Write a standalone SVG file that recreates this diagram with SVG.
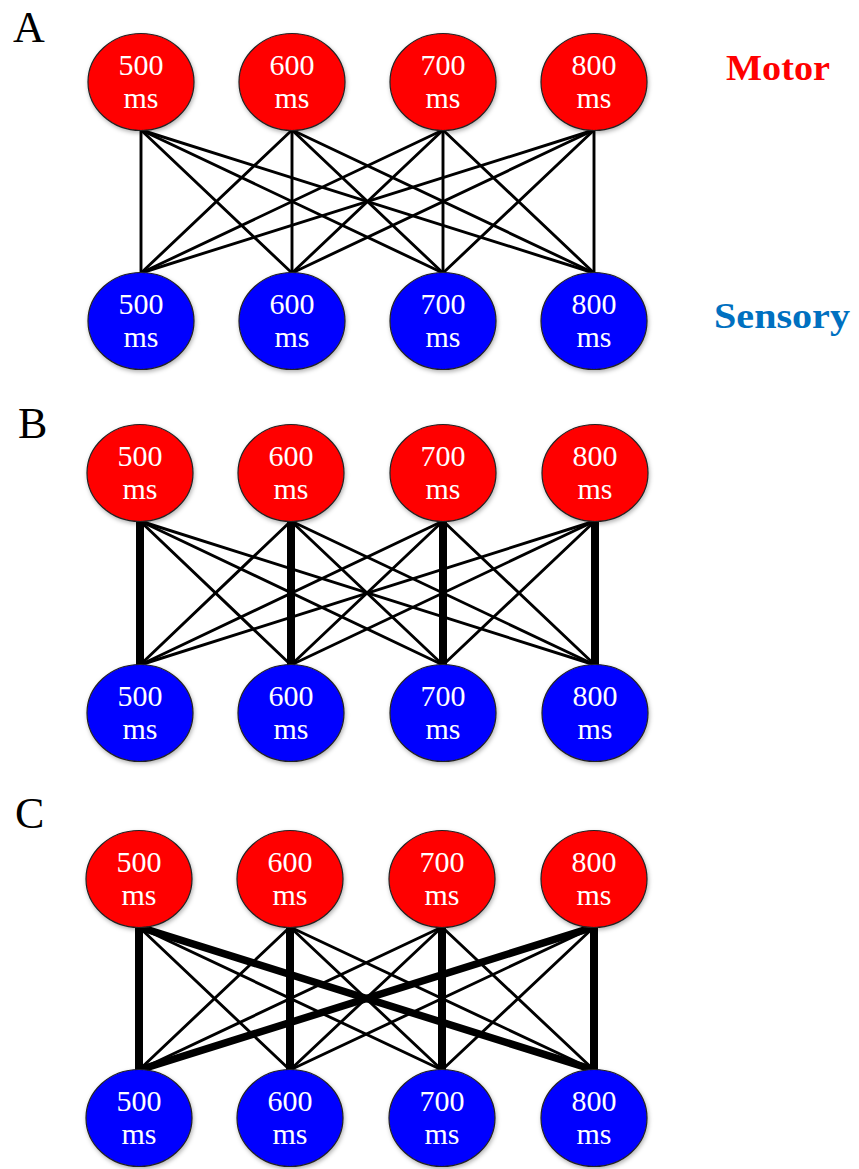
<svg xmlns="http://www.w3.org/2000/svg" width="859" height="1169" viewBox="0 0 859 1169">
<style>
.motor{fill:#FF0000;stroke:#222;stroke-width:1.2;filter:url(#sh)}
.sensory{fill:#0000FF;stroke:#222;stroke-width:1.2;filter:url(#sh)}
.nt{font-family:"Liberation Serif",serif;font-size:30px;fill:#fff;text-anchor:middle}
.panel{font-family:"Liberation Serif",serif;font-size:44px;fill:#000}
.thin{stroke:#000;stroke-width:2.9;stroke-linecap:round}
.thick{stroke:#000;stroke-width:8;stroke-linecap:butt}
.thickd{stroke:#000;stroke-width:7.5;stroke-linecap:round}
</style>
<defs>
<filter id="sh" x="-20%" y="-20%" width="140%" height="140%">
<feDropShadow dx="1" dy="2" stdDeviation="2" flood-color="#000" flood-opacity="0.3"/>
</filter>
</defs>
<rect width="859" height="1169" fill="#fff"/>

<text class="panel" x="13" y="42">A</text>
<text class="panel" x="18" y="438">B</text>
<text class="panel" x="15" y="828">C</text>
<text x="726" y="80" font-family="'Liberation Serif',serif" font-weight="bold" font-size="36" fill="#FF0000" textLength="104" lengthAdjust="spacingAndGlyphs">Motor</text>
<text x="714" y="328" font-family="'Liberation Serif',serif" font-weight="bold" font-size="36" fill="#0070C0" textLength="136" lengthAdjust="spacingAndGlyphs">Sensory</text>

<g id="connectors">
<g id="conn-A">
<line class="thin" x1="141" y1="130" x2="141" y2="273"/>
<line class="thin" x1="141" y1="130" x2="292" y2="273"/>
<line class="thin" x1="141" y1="130" x2="443" y2="273"/>
<line class="thin" x1="141" y1="130" x2="594" y2="273"/>
<line class="thin" x1="292" y1="130" x2="141" y2="273"/>
<line class="thin" x1="292" y1="130" x2="292" y2="273"/>
<line class="thin" x1="292" y1="130" x2="443" y2="273"/>
<line class="thin" x1="292" y1="130" x2="594" y2="273"/>
<line class="thin" x1="443" y1="130" x2="141" y2="273"/>
<line class="thin" x1="443" y1="130" x2="292" y2="273"/>
<line class="thin" x1="443" y1="130" x2="443" y2="273"/>
<line class="thin" x1="443" y1="130" x2="594" y2="273"/>
<line class="thin" x1="594" y1="130" x2="141" y2="273"/>
<line class="thin" x1="594" y1="130" x2="292" y2="273"/>
<line class="thin" x1="594" y1="130" x2="443" y2="273"/>
<line class="thin" x1="594" y1="130" x2="594" y2="273"/>
</g>
<g id="conn-B">
<line class="thick" x1="140" y1="521" x2="140" y2="666"/>
<line class="thin" x1="140" y1="521" x2="291" y2="665"/>
<line class="thin" x1="140" y1="521" x2="443" y2="665"/>
<line class="thin" x1="140" y1="521" x2="595" y2="665"/>
<line class="thin" x1="291" y1="521" x2="140" y2="665"/>
<line class="thick" x1="291" y1="521" x2="291" y2="666"/>
<line class="thin" x1="291" y1="521" x2="443" y2="665"/>
<line class="thin" x1="291" y1="521" x2="595" y2="665"/>
<line class="thin" x1="443" y1="521" x2="140" y2="665"/>
<line class="thin" x1="443" y1="521" x2="291" y2="665"/>
<line class="thick" x1="443" y1="521" x2="443" y2="666"/>
<line class="thin" x1="443" y1="521" x2="595" y2="665"/>
<line class="thin" x1="595" y1="521" x2="140" y2="665"/>
<line class="thin" x1="595" y1="521" x2="291" y2="665"/>
<line class="thin" x1="595" y1="521" x2="443" y2="665"/>
<line class="thick" x1="595" y1="521" x2="595" y2="666"/>
</g>
<g id="conn-C">
<line class="thick" x1="139" y1="926" x2="139" y2="1071"/>
<line class="thin" x1="139" y1="927" x2="290" y2="1070"/>
<line class="thin" x1="139" y1="927" x2="442" y2="1070"/>
<line class="thickd" x1="139" y1="927" x2="594" y2="1070"/>
<line class="thin" x1="290" y1="927" x2="139" y2="1070"/>
<line class="thick" x1="290" y1="926" x2="290" y2="1071"/>
<line class="thin" x1="290" y1="927" x2="442" y2="1070"/>
<line class="thin" x1="290" y1="927" x2="594" y2="1070"/>
<line class="thin" x1="442" y1="927" x2="139" y2="1070"/>
<line class="thin" x1="442" y1="927" x2="290" y2="1070"/>
<line class="thick" x1="442" y1="926" x2="442" y2="1071"/>
<line class="thin" x1="442" y1="927" x2="594" y2="1070"/>
<line class="thickd" x1="594" y1="927" x2="139" y2="1070"/>
<line class="thin" x1="594" y1="927" x2="290" y2="1070"/>
<line class="thin" x1="594" y1="927" x2="442" y2="1070"/>
<line class="thick" x1="594" y1="926" x2="594" y2="1071"/>
</g>
</g>

<g id="A-m500"><ellipse class="motor" cx="141" cy="82" rx="53" ry="48.5"/><text class="nt" x="141" y="75">500</text><text class="nt" x="141" y="108">ms</text></g>
<g id="A-m600"><ellipse class="motor" cx="292" cy="82" rx="53" ry="48.5"/><text class="nt" x="292" y="75">600</text><text class="nt" x="292" y="108">ms</text></g>
<g id="A-m700"><ellipse class="motor" cx="443" cy="82" rx="53" ry="48.5"/><text class="nt" x="443" y="75">700</text><text class="nt" x="443" y="108">ms</text></g>
<g id="A-m800"><ellipse class="motor" cx="594" cy="82" rx="53" ry="48.5"/><text class="nt" x="594" y="75">800</text><text class="nt" x="594" y="108">ms</text></g>
<g id="A-s500"><ellipse class="sensory" cx="141" cy="321" rx="53" ry="48.5"/><text class="nt" x="141" y="314">500</text><text class="nt" x="141" y="347">ms</text></g>
<g id="A-s600"><ellipse class="sensory" cx="292" cy="321" rx="53" ry="48.5"/><text class="nt" x="292" y="314">600</text><text class="nt" x="292" y="347">ms</text></g>
<g id="A-s700"><ellipse class="sensory" cx="443" cy="321" rx="53" ry="48.5"/><text class="nt" x="443" y="314">700</text><text class="nt" x="443" y="347">ms</text></g>
<g id="A-s800"><ellipse class="sensory" cx="594" cy="321" rx="53" ry="48.5"/><text class="nt" x="594" y="314">800</text><text class="nt" x="594" y="347">ms</text></g>

<g id="B-m500"><ellipse class="motor" cx="140" cy="473" rx="53" ry="48.5"/><text class="nt" x="140" y="466">500</text><text class="nt" x="140" y="499">ms</text></g>
<g id="B-m600"><ellipse class="motor" cx="291" cy="473" rx="53" ry="48.5"/><text class="nt" x="291" y="466">600</text><text class="nt" x="291" y="499">ms</text></g>
<g id="B-m700"><ellipse class="motor" cx="443" cy="473" rx="53" ry="48.5"/><text class="nt" x="443" y="466">700</text><text class="nt" x="443" y="499">ms</text></g>
<g id="B-m800"><ellipse class="motor" cx="595" cy="473" rx="53" ry="48.5"/><text class="nt" x="595" y="466">800</text><text class="nt" x="595" y="499">ms</text></g>
<g id="B-s500"><ellipse class="sensory" cx="140" cy="713" rx="53" ry="48.5"/><text class="nt" x="140" y="706">500</text><text class="nt" x="140" y="739">ms</text></g>
<g id="B-s600"><ellipse class="sensory" cx="291" cy="713" rx="53" ry="48.5"/><text class="nt" x="291" y="706">600</text><text class="nt" x="291" y="739">ms</text></g>
<g id="B-s700"><ellipse class="sensory" cx="443" cy="713" rx="53" ry="48.5"/><text class="nt" x="443" y="706">700</text><text class="nt" x="443" y="739">ms</text></g>
<g id="B-s800"><ellipse class="sensory" cx="595" cy="713" rx="53" ry="48.5"/><text class="nt" x="595" y="706">800</text><text class="nt" x="595" y="739">ms</text></g>

<g id="C-m500"><ellipse class="motor" cx="139" cy="879" rx="53" ry="48.5"/><text class="nt" x="139" y="872">500</text><text class="nt" x="139" y="905">ms</text></g>
<g id="C-m600"><ellipse class="motor" cx="290" cy="879" rx="53" ry="48.5"/><text class="nt" x="290" y="872">600</text><text class="nt" x="290" y="905">ms</text></g>
<g id="C-m700"><ellipse class="motor" cx="442" cy="879" rx="53" ry="48.5"/><text class="nt" x="442" y="872">700</text><text class="nt" x="442" y="905">ms</text></g>
<g id="C-m800"><ellipse class="motor" cx="594" cy="879" rx="53" ry="48.5"/><text class="nt" x="594" y="872">800</text><text class="nt" x="594" y="905">ms</text></g>
<g id="C-s500"><ellipse class="sensory" cx="139" cy="1118" rx="53" ry="48.5"/><text class="nt" x="139" y="1111">500</text><text class="nt" x="139" y="1144">ms</text></g>
<g id="C-s600"><ellipse class="sensory" cx="290" cy="1118" rx="53" ry="48.5"/><text class="nt" x="290" y="1111">600</text><text class="nt" x="290" y="1144">ms</text></g>
<g id="C-s700"><ellipse class="sensory" cx="442" cy="1118" rx="53" ry="48.5"/><text class="nt" x="442" y="1111">700</text><text class="nt" x="442" y="1144">ms</text></g>
<g id="C-s800"><ellipse class="sensory" cx="594" cy="1118" rx="53" ry="48.5"/><text class="nt" x="594" y="1111">800</text><text class="nt" x="594" y="1144">ms</text></g>
</svg>
